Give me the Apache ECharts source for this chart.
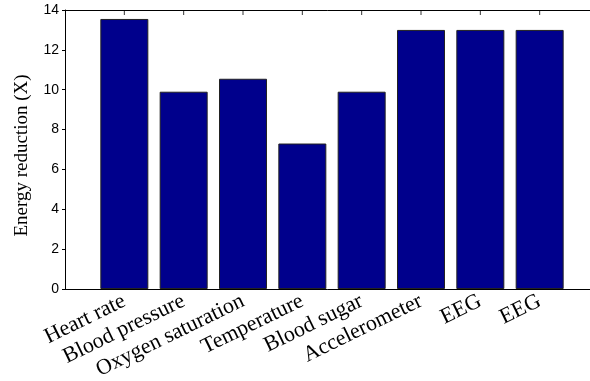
<!DOCTYPE html>
<html>
<head>
<meta charset="utf-8">
<script src="https://cdn.jsdelivr.net/npm/echarts@6/dist/echarts.min.js"></script>
<style>
  html, body { margin: 0; padding: 0; background: #fff; }
  #chart { width: 590px; height: 381px; }
</style>
</head>
<body>
<div id="chart"></div>
<script>
// Sensor categories and their energy reduction factors
const categories = ['Heart rate', 'Blood pressure', 'Oxygen saturation', 'Temperature',
                    'Blood sugar', 'Accelerometer', 'EEG', 'EEG'];
const energyReduction = [13.55, 9.9, 10.55, 7.3, 9.9, 13.0, 13.0, 13.0];
const yTicks = [0, 2, 4, 6, 8, 10, 12, 14];

// Bars sit at positions 1..N on a numeric axis spanning 0..N+1
const positions = categories.map((c, i) => i + 1);
const barData = energyReduction.map((v, i) => [positions[i], v]);
// Small inward tick marks along the top frame edge, one per bar position
const topTickData = positions.map(p => [p, yTicks[yTicks.length - 1]]);

const chart = echarts.init(document.getElementById('chart'), null, { renderer: 'canvas' });

const axisLine = { show: true, onZero: false, lineStyle: { color: '#000', width: 1 } };

chart.setOption({
  animation: false,
  backgroundColor: '#fff',
  grid: { left: 65, top: 10, width: 534, height: 279, containLabel: false, outerBoundsMode: 'none' },
  xAxis: [
    {
      type: 'value',
      min: 0,
      max: categories.length + 1,
      interval: 1,
      position: 'bottom',
      axisLine: axisLine,
      axisTick: { show: false },
      splitLine: { show: false },
      axisLabel: {
        rotate: 26,
        margin: 11,
        fontFamily: 'Liberation Serif',
        fontSize: 22,
        color: '#000',
        formatter: v => categories[v - 1] || ''
      }
    },
    {
      // top frame edge
      type: 'value',
      min: 0,
      max: categories.length + 1,
      interval: 1,
      position: 'top',
      axisLine: axisLine,
      axisTick: { show: false },
      axisLabel: { show: false },
      splitLine: { show: false }
    }
  ],
  yAxis: [
    {
      type: 'value',
      min: yTicks[0],
      max: yTicks[yTicks.length - 1],
      interval: 2,
      position: 'left',
      name: 'Energy reduction (X)',
      nameLocation: 'middle',
      nameGap: 33,
      nameTextStyle: { fontFamily: 'Liberation Serif', fontSize: 19, color: '#000', padding: [0, 12, 0, 0] },
      axisLine: axisLine,
      axisTick: { show: true, inside: false, length: 3, lineStyle: { color: '#000' } },
      splitLine: { show: false },
      axisLabel: { fontFamily: 'Liberation Sans', fontSize: 14, color: '#000', margin: 6 }
    }
  ],
  series: [
    {
      type: 'bar',
      xAxisIndex: 0,
      yAxisIndex: 0,
      data: barData,
      barWidth: 48,
      itemStyle: { color: '#00008c', borderColor: '#222', borderWidth: 1 }
    },
    {
      type: 'scatter',
      xAxisIndex: 0,
      yAxisIndex: 0,
      silent: true,
      clip: false,
      data: topTickData,
      symbol: 'rect',
      symbolSize: [1, 5],
      symbolOffset: [0, 2.5],
      itemStyle: { color: '#000' },
      z: 5
    }
  ]
});
</script>
</body>
</html>
